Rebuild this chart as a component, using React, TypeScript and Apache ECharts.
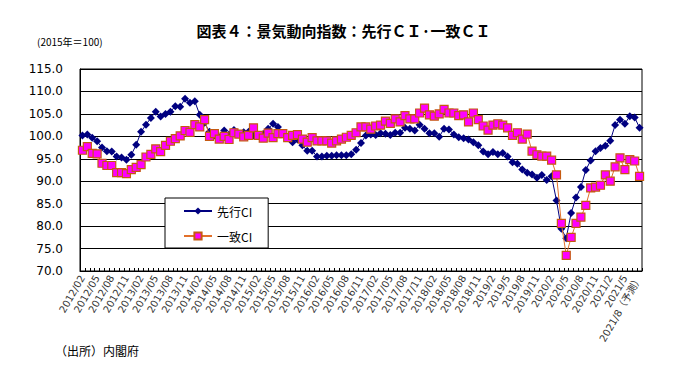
import React, { useEffect, useRef } from "react";
import * as echarts from "echarts";

// Monthly categories 2012/02 .. 2021/08 (last one is a forecast)
const startYear = 2012;
const startMonth = 2;
const monthCount = 115;
const forecastLabel = "2021/8（予測）";

const categories: string[] = [];
for (let k = 0; k < monthCount; k++) {
  const t = (startMonth - 1) + k;
  const y = startYear + Math.floor(t / 12);
  const m = (t % 12) + 1;
  const lab = y >= 2019 ? `${y}/${m}` : `${y}/${m < 10 ? "0" + m : m}`;
  categories.push(k === monthCount - 1 ? forecastLabel : lab);
}

const yTicks = [70, 75, 80, 85, 90, 95, 100, 105, 110, 115];

// 先行CI (leading index)
const leadingCI = [
  100.2, 100.4, 99.7, 98.9, 97.5, 96.7, 96.6, 95.5, 95.3, 94.8,
  95.9, 98.1, 101.0, 102.6, 104.1, 105.5, 104.4, 105.0, 105.5, 106.7,
  106.6, 108.4, 107.5, 107.8, 104.8, 103.0, 101.0, 100.2, 99.8, 101.3,
  100.4, 101.4, 100.6, 100.9, 101.0, 100.2, 100.2, 100.5, 101.7, 102.8,
  102.1, 100.5, 99.8, 98.7, 99.3, 98.0, 96.8, 96.8, 95.5, 95.5,
  95.7, 95.7, 95.8, 95.8, 95.8, 96.0, 97.0, 98.5, 100.2,
  100.4, 100.3, 100.7, 100.6, 100.3, 100.8, 100.8, 101.9, 101.7, 101.3,
  102.6, 101.7, 100.7, 100.7, 99.9, 101.7, 101.5, 100.4, 99.8, 99.6,
  99.3, 98.7, 98.0, 96.6, 96.0, 96.5, 96.0, 96.3,
  95.5, 94.2, 93.9, 92.6, 91.9, 91.5, 90.8, 91.4, 90.3, 91.1,
  85.7, 79.4, 77.3, 82.9, 86.4, 88.7, 92.5, 94.6, 96.7, 97.4,
  97.9, 99.0, 102.5, 103.7, 102.8, 104.5, 104.2, 101.9,
];

// 一致CI (coincident index)
const coincidentCI = [
  96.9, 97.7, 96.2, 96.1, 94.0, 93.5, 93.5, 91.9, 91.9, 91.7,
  92.6, 93.1, 93.7, 95.4, 96.0, 97.2, 96.6, 98.0, 98.9, 99.5,
  100.1, 101.3, 100.9, 102.6, 102.1, 103.7, 100.0, 100.6, 99.4, 100.0,
  99.3, 100.8, 100.5, 99.9, 100.2, 101.9, 100.2, 99.6, 100.7, 99.7,
  100.6, 100.6, 99.7, 100.2, 100.4, 99.4, 98.7, 99.7, 99.0, 99.0,
  99.0, 98.5, 99.0, 99.4, 99.8, 100.2, 100.8, 102.1, 102.1,
  101.6, 102.3, 102.5, 103.4, 102.9, 103.9, 103.2, 104.6, 103.9, 103.9,
  105.2, 106.3, 104.8, 104.5, 105.0, 106.0, 105.2, 105.2, 104.6, 104.8,
  103.2, 105.2, 103.7, 102.3, 101.4, 102.5, 102.8, 102.5,
  101.9, 100.2, 100.8, 99.4, 100.5, 96.7, 95.9, 95.6, 95.6, 94.7,
  91.4, 80.6, 73.5, 77.5, 80.6, 82.0, 84.6, 88.5, 88.7, 89.1,
  91.4, 90.0, 93.2, 95.2, 92.6, 94.8, 94.5, 91.1,
];

const titleText = "図表４：景気動向指数：先行ＣＩ·一致ＣＩ";
const unitText = "(2015年＝100)";
const sourceText = "（出所）内閣府";
const seriesNames = ["先行CI", "一致CI"];

const JP = '"Noto Sans CJK JP", "Noto Sans", sans-serif';
const NUM = '"DejaVu Sans", "Noto Sans CJK JP", sans-serif';

export default function App() {
  const ref = useRef<HTMLDivElement>(null);
  useEffect(() => {
    if (!ref.current) return;
    const chart = echarts.init(ref.current, undefined, { renderer: "svg" });
    chart.setOption({
      animation: false,
      backgroundColor: "#ffffff",
      title: {
        text: titleText,
        left: "center",
        top: 18,
        textStyle: { fontFamily: JP, fontSize: 15, fontWeight: "bold", color: "#000" },
      },
      graphic: [
        {
          type: "text",
          left: 37,
          top: 36,
          style: { text: unitText, fontFamily: JP, fontSize: 10, fill: "#000" },
        },
        {
          type: "text",
          left: 55,
          top: 344,
          style: { text: sourceText, fontFamily: JP, fontSize: 12, fill: "#000" },
        },
      ],
      legend: {
        data: seriesNames,
        orient: "vertical",
        left: 165,
        top: 198,
        backgroundColor: "#ffffff",
        borderColor: "#000000",
        borderWidth: 1,
        borderRadius: 0,
        padding: [7, 16, 6, 18],
        itemWidth: 28,
        itemHeight: 9,
        itemGap: 13,
        textStyle: { fontFamily: JP, fontSize: 12, color: "#000" },
      },
      grid: {
        left: 80,
        right: 45,
        top: 69,
        bottom: 103,
        show: true,
        borderColor: "#000",
        borderWidth: 1,
        backgroundColor: "transparent",
      },
      xAxis: {
        type: "category",
        data: categories,
        boundaryGap: true,
        axisLine: { lineStyle: { color: "#000", width: 1 } },
        axisTick: { show: true, inside: true, length: 3, interval: 0, lineStyle: { color: "#000" } },
        axisLabel: {
          interval: 2,
          rotate: 60,
          fontFamily: NUM,
          fontSize: 10,
          color: "#333",
          margin: 5,
        },
        splitLine: { show: false },
      },
      yAxis: {
        type: "value",
        min: yTicks[0],
        max: yTicks[yTicks.length - 1],
        interval: 5,
        axisLine: { show: true, lineStyle: { color: "#000" } },
        axisTick: { show: false },
        axisLabel: {
          formatter: (v: number) => v.toFixed(1),
          fontFamily: NUM,
          fontSize: 12,
          color: "#000",
          margin: 17,
        },
        splitLine: { show: true, lineStyle: { color: "#000", width: 1 } },
      },
      series: [
        {
          name: seriesNames[0],
          type: "line",
          data: leadingCI,
          symbol: "diamond",
          symbolSize: 8,
          showSymbol: true,
          showAllSymbol: true,
          lineStyle: { color: "#000080", width: 1 },
          itemStyle: { color: "#000080", borderColor: "#000080", borderWidth: 0 },
          z: 2,
        },
        {
          name: seriesNames[1],
          type: "line",
          data: coincidentCI,
          symbol: "rect",
          symbolSize: 8,
          showSymbol: true,
          showAllSymbol: true,
          lineStyle: { color: "#E2702A", width: 1 },
          itemStyle: { color: "#FF00FF", borderColor: "#C55A11", borderWidth: 1.2 },
          z: 3,
        },
      ],
    });
    return () => chart.dispose();
  }, []);
  return (
    <div
      ref={ref}
      style={{ position: "absolute", left: 0, top: 0, width: 687, height: 374 }}
    />
  );
}
